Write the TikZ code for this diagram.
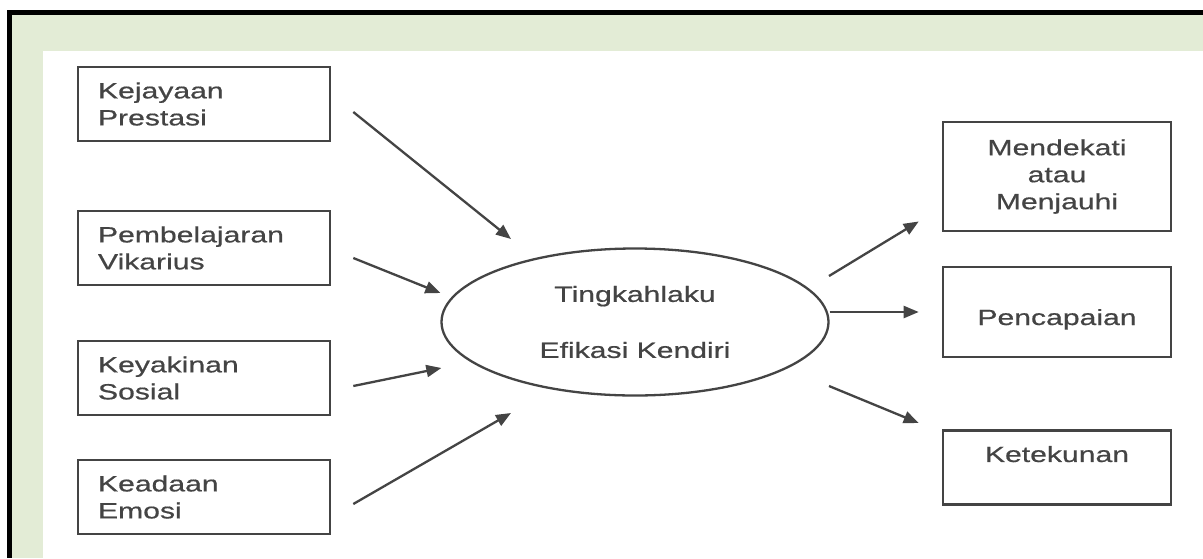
\documentclass[tikz,border=0pt]{standalone}
\usepackage{fontspec}
\setmainfont{Liberation Sans}[FakeStretch=1.37,FakeBold=0.6]
\usetikzlibrary{shapes.geometric,arrows.meta}
\definecolor{framegreen}{HTML}{E3ECD6}
\definecolor{ink}{HTML}{444444}

\begin{document}
\begin{tikzpicture}[x=1pt,y=-1pt,
  box/.style ={draw=ink,line width=2.6pt,minimum height=74pt,minimum width=252pt,inner xsep=20pt,inner ysep=2pt,text width=212pt,align=left,text=ink,font=\fontsize{22}{27}\selectfont},
  rbox/.style={box,minimum width=228pt,text width=188pt,align=center},
  eff/.style ={draw=ink,line width=2.3pt,ellipse,minimum width=387pt,minimum height=147pt,inner sep=0pt,align=center,text=ink,font=\fontsize{22}{27}\selectfont},
  arr/.style ={draw=ink,line width=2.3pt,-{Triangle[length=15pt,width=12pt]}}]

\useasboundingbox (0,0) rectangle (1203,558);

%frame
\fill[black] (7,10) rectangle (1203,558);
\fill[framegreen] (12,15) rectangle (1203,558);
\fill[white] (43,51) rectangle (1203,558);

\node[box] (KP) at (204,104) {Kejayaan\\Prestasi};
\node[box] (PV) at (204,248) {Pembelajaran\\Vikarius};
\node[box] (KS) at (204,378) {Keyakinan\\Sosial};
\node[box] (KE) at (204,497) {Keadaan\\Emosi};

\node[eff] (TEK) at (635,322) {Tingkahlaku\\[29pt]Efikasi Kendiri};

\node[rbox,minimum height=109pt] (MM) at (1057,176.5) {Mendekati\\atau\\Menjauhi};
\node[rbox,minimum height=90pt,text height=26pt,text depth=0pt] (PC) at (1057,312) {Pencapaian};
\node[rbox] (KT) at (1057,467.5) {Ketekunan\\\mbox{}};

\coordinate (in1) at ([shift={(-124,-83)}]TEK.center);
\coordinate (in2) at ([shift={(0,-29)}]TEK.west);
\coordinate (in3) at ([shift={(1,46)}]TEK.west);
\coordinate (in4) at ([shift={(-124,91)}]TEK.center);
\coordinate (out1) at (829,276);
\coordinate (out3) at (829,386);

\draw [arr] ([shift={(22,8)}]KP.east) -- (in1);
\draw [arr] ([shift={(22,10)}]PV.east) -- (in2);
\draw [arr] ([shift={(22,8)}]KS.east) -- (in3);
\draw [arr] ([shift={(22,7)}]KE.east) -- (in4);

\draw [arr] (out1) -- ([shift={(-23,45)}]MM.west);
\draw [arr] (TEK.east |- PC.west) -- ([xshift=-23pt]PC.west);
\draw [arr] (out3) -- ([shift={(-23,-44.5)}]KT.west);
\end{tikzpicture}
\end{document}
